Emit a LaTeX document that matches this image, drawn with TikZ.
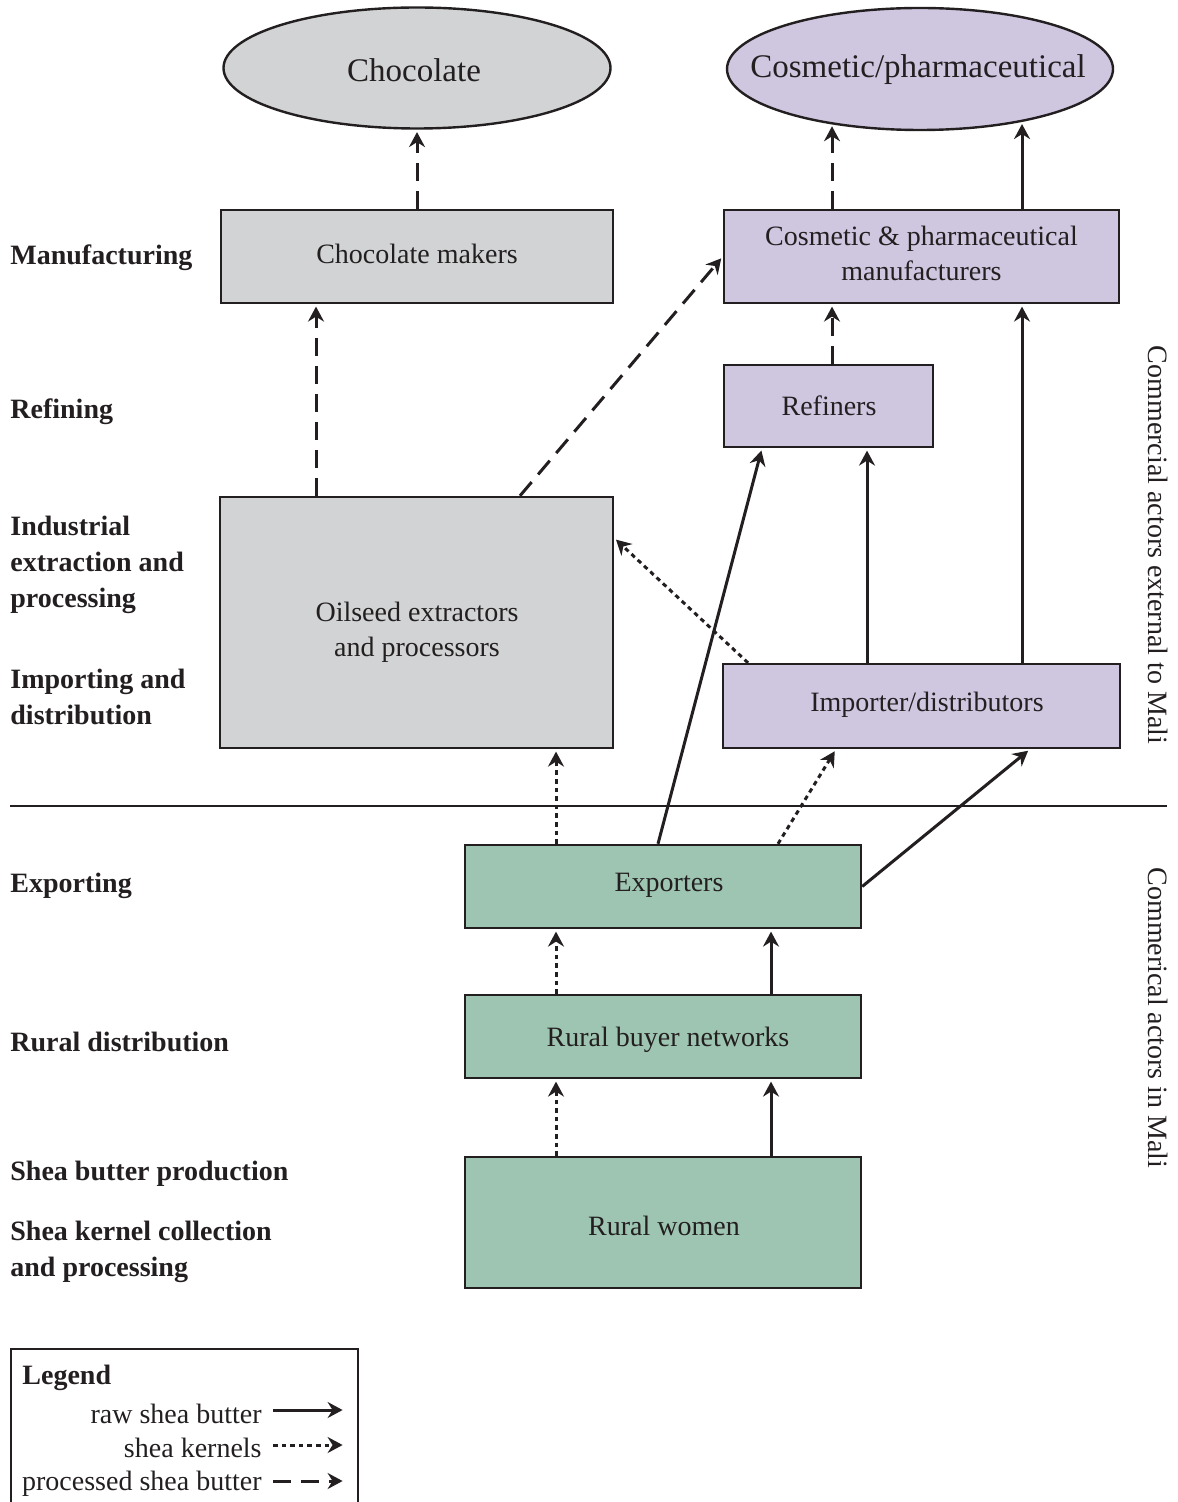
\documentclass[tikz,border=0pt]{standalone}
\usepackage{fontspec}
\setmainfont{Liberation Serif}
\usetikzlibrary{shapes.geometric,arrows.meta}
\definecolor{cgray}{HTML}{D1D3D4}
\definecolor{cpurp}{HTML}{CFC6E0}
\definecolor{cgreen}{HTML}{9EC5B2}
\definecolor{cline}{HTML}{231F20}
\begin{document}
\begin{tikzpicture}[x=0.5pt,y=-0.5pt,
 box/.style={draw=cline,line width=1.2pt,rectangle,inner sep=0pt,font=\fontsize{14}{17.5}\selectfont,align=center,text=cline},
 oval/.style={draw=cline,line width=1.2pt,ellipse,inner sep=0pt},
 ovaltxt/.style={font=\fontsize{16.5}{20}\selectfont,text=cline,inner sep=0pt},
 boxtxt/.style={font=\fontsize{14}{17.5}\selectfont,align=center,text=cline,inner sep=0pt},
 raw/.style={line width=1.5pt,draw=cline,shorten >=1.2pt,-{Stealth[length=7.5pt,width=8pt,inset=2.5pt]}},
 kern/.style={raw,dash pattern=on 2.3pt off 2pt},
 proc/.style={raw,dash pattern=on 9pt off 5pt},
 lab/.style={font=\bfseries\fontsize{14}{18}\selectfont,anchor=west,align=left,inner sep=0pt,text=cline},
 side/.style={font=\fontsize{14}{17}\selectfont,rotate=-90,inner sep=0pt,text=cline},
 legtxt/.style={font=\fontsize{14}{17}\selectfont,anchor=east,inner sep=0pt,text=cline}]
\useasboundingbox (0,0) rectangle (1177,1502);

% helper coordinates
\coordinate (x316) at (316,0);
\coordinate (x520) at (520,0);
\coordinate (x556) at (556,0);
\coordinate (x658) at (658,0);
\coordinate (x748) at (748,0);
\coordinate (x762) at (762,0);
\coordinate (x771) at (771,0);
\coordinate (x778) at (778,0);
\coordinate (x832) at (832,0);
\coordinate (x836) at (836,0);
\coordinate (x867) at (867,0);
\coordinate (x1022) at (1022,0);
\coordinate (x1030) at (1030,0);
\coordinate (y538) at (0,538);

% nodes
\node[oval,fill=cgray,minimum width=193.5pt,minimum height=60.5pt] (choc) at (417,68) {};
\node[ovaltxt] (choct) at (414,70) {Chocolate};
\node[oval,fill=cpurp,minimum width=193pt,minimum height=61pt] (cos) at (920,69) {};
\node[ovaltxt] (cost) at (918,70) {Cosmetic/pharmaceutical};
\node[box,fill=cgray,minimum width=196pt,minimum height=46.5pt] (chocm) at (417,256.5) {};
\node[boxtxt] (chocmt) at (417,254) {Chocolate makers};
\node[box,fill=cpurp,minimum width=197.5pt,minimum height=46.5pt] (cosm) at (921.5,256.5) {};
\node[boxtxt] (cosmt) at (921.5,253) {Cosmetic \& pharmaceutical\\manufacturers};
\node[box,fill=cpurp,minimum width=104.5pt,minimum height=41pt] (ref) at (828.5,406) {};
\node[boxtxt] (reft) at (829,406) {Refiners};
\node[box,fill=cgray,minimum width=196.5pt,minimum height=125.5pt] (oil) at (416.5,622.5) {};
\node[boxtxt] (oilt) at (417,632) {Oilseed extractors\\and processors};
\node[box,fill=cpurp,minimum width=198.5pt,minimum height=42pt] (imp) at (921.5,706) {};
\node[boxtxt] (impt) at (927,705) {Importer/distributors};
\node[box,fill=cgreen,minimum width=198pt,minimum height=41.5pt] (exp) at (663,886.5) {};
\node[boxtxt] (expt) at (669,885) {Exporters};
\node[box,fill=cgreen,minimum width=198pt,minimum height=41.5pt] (rbn) at (663,1036.5) {};
\node[boxtxt] (rbnt) at (668,1040) {Rural buyer networks};
\node[box,fill=cgreen,minimum width=198pt,minimum height=65.5pt] (rw) at (663,1222.5) {};
\node[boxtxt] (rwt) at (664,1226) {Rural women};

% divider
\coordinate (divL) at (10,806);
\coordinate (divR) at (1167,806);
\draw[line width=1.1pt,cline] (divL) -- (divR);

% left labels
\node[lab] (l1) at (10,258) {Manufacturing};
\node[lab] (l2) at (10,412) {Refining};
\node[lab] (l3) at (10,565) {Industrial\\extraction and\\processing};
\node[lab] (l4) at (10,697) {Importing and\\distribution};
\node[lab] (l5) at (10,886) {Exporting};
\node[lab] (l6) at (10,1042) {Rural distribution};
\node[lab] (l7) at (10,1174) {Shea butter production};
\node[lab] (l8) at (10,1252) {Shea kernel collection\\and processing};

% side labels
\node[side] (s1) at (1158,545) {Commercial actors external to Mali};
\node[side] (s2) at (1158,1018) {Commerical actors in Mali};

% connectors
\draw[proc] (chocm.north) -- (choc.south);
\draw[proc] (oil.north -| x316) -- (chocm.south -| x316);
\draw[proc] (oil.north -| x520) -- (cosm.west);
\draw[proc] (cosm.north -| x832) -- (cos.211.5 -| x832);
\draw[raw] (cosm.north -| x1022) -- (cos.-27 -| x1022);
\draw[proc] (ref.north -| x832) -- (cosm.south -| x832);
\draw[raw] (imp.north -| x1022) -- (cosm.south -| x1022);
\draw[raw] (imp.north -| x867) -- (ref.south -| x867);
\draw[kern] (imp.north -| x748) -- (oil.east |- y538);
\draw[raw] (exp.north -| x658) -- (ref.south -| x762);
\draw[kern] (exp.north -| x556) -- (oil.south -| x556);
\draw[kern] (exp.north -| x778) -- (imp.south -| x836);
\draw[raw] (exp.east) -- (imp.south -| x1030);
\draw[kern] (rbn.north -| x556) -- (exp.south -| x556);
\draw[raw] (rbn.north -| x771) -- (exp.south -| x771);
\draw[kern] (rw.north -| x556) -- (rbn.south -| x556);
\draw[raw] (rw.north -| x771) -- (rbn.south -| x771);

% legend
\node[draw=cline,line width=1.2pt,rectangle,minimum width=173.5pt,minimum height=79pt,inner sep=0pt,anchor=north west] (leg) at (10,1348) {};
\node[font=\bfseries\fontsize{14}{17}\selectfont,anchor=west,inner sep=0pt,text=cline] (legt) at (22,1378) {Legend};
\node[legtxt] (lg1) at (262,1414) {raw shea butter};
\node[legtxt] (lg2) at (262,1448) {shea kernels};
\node[legtxt] (lg3) at (262,1484) {processed shea butter};
\coordinate (a1s) at (273,1410); \coordinate (a1e) at (345,1410);
\coordinate (a2s) at (273,1445); \coordinate (a2e) at (345,1445);
\coordinate (a3s) at (273,1481); \coordinate (a3e) at (345,1481);
\draw[raw] (a1s) -- (a1e);
\draw[kern] (a2s) -- (a2e);
\draw[proc] (a3s) -- (a3e);
\end{tikzpicture}
\end{document}
